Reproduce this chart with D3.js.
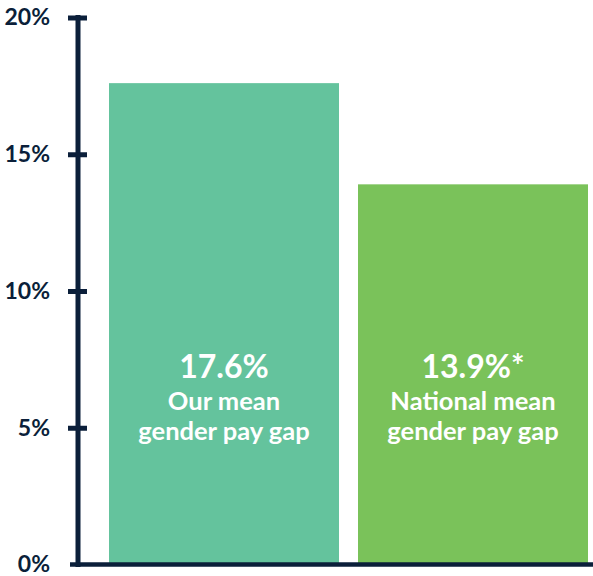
<!DOCTYPE html>
<html>
<head>
<meta charset="utf-8">
<script src="https://cdn.jsdelivr.net/npm/d3@7"></script>
<style>
  body { margin: 0; background: #fff; }
  svg { display: block; font-family: Lato, "Open Sans", sans-serif; }
</style>
</head>
<body>
<div id="chart"></div>
<script>
// Data for the chart
const categories = ['ours', 'national'];
const values = [17.6, 13.9];
const valueLabels = ['17.6%', '13.9%*'];
const captionLines = [['Our mean', 'gender pay gap'], ['National mean', 'gender pay gap']];
const tickValues = [0, 5, 10, 15, 20];
const barColours = ['#64c39d', '#7ac25a'];

const width = 593, height = 576;
const navy = '#0b1f3a';

const svg = d3.select('#chart').append('svg')
    .attr('width', width)
    .attr('height', height);

// Scales
const y = d3.scaleLinear().domain([0, 20]).range([564.5, 17.5]);
const x = d3.scaleBand().domain(categories).range([109, 588])
    .paddingInner(0.0763).paddingOuter(0);
const colour = d3.scaleOrdinal().domain(categories).range(barColours);

// Bars
svg.selectAll('rect.bar').data(categories).join('rect')
    .attr('class', 'bar')
    .attr('x', d => x(d))
    .attr('width', x.bandwidth())
    .attr('y', (d, i) => y(values[i]))
    .attr('height', (d, i) => y(0) - y(values[i]))
    .attr('fill', d => colour(d));

// Labels inside the bars
const labelG = svg.selectAll('g.bar-label').data(categories).join('g')
    .attr('class', 'bar-label')
    .attr('transform', d => `translate(${x(d) + x.bandwidth() / 2},0)`)
    .attr('fill', '#fff')
    .attr('text-anchor', 'middle')
    .style('font-weight', 700);

labelG.append('text')
    .attr('y', y(0) - 187)
    .style('font-size', '32px')
    .text((d, i) => valueLabels[i]);

labelG.each(function(d, i) {
    d3.select(this).selectAll('text.caption').data(captionLines[i]).join('text')
        .attr('class', 'caption')
        .attr('y', (t, j) => y(0) - 155 + j * 30)
        .style('font-size', '25.5px')
        .text(t => t);
});

// Y axis, ticks cross the line
const axis = d3.axisLeft(y)
    .tickValues(tickValues)
    .tickFormat(d => d + '%')
    .tickSizeOuter(0)
    .tickPadding(22);

const axisG = svg.append('g')
    .attr('transform', 'translate(78,0)')
    .call(axis);

axisG.select('.domain').remove();
axisG.selectAll('.tick line')
    .attr('x1', -10).attr('x2', 9)
    .attr('stroke', navy).attr('stroke-width', 5);
axisG.selectAll('.tick').filter(d => d === 0).select('line').remove();
axisG.selectAll('.tick text')
    .attr('fill', navy)
    .style('font-size', '23px')
    .style('font-family', 'Lato, sans-serif')
    .style('font-weight', 700);

axisG.append('line')
    .attr('y1', y(20) - 2.5).attr('y2', y(0) + 2.5)
    .attr('stroke', navy).attr('stroke-width', 5);

// Baseline
svg.append('line')
    .attr('x1', 70).attr('x2', width)
    .attr('y1', y(0)).attr('y2', y(0))
    .attr('stroke', navy).attr('stroke-width', 4.5);
</script>
</body>
</html>
